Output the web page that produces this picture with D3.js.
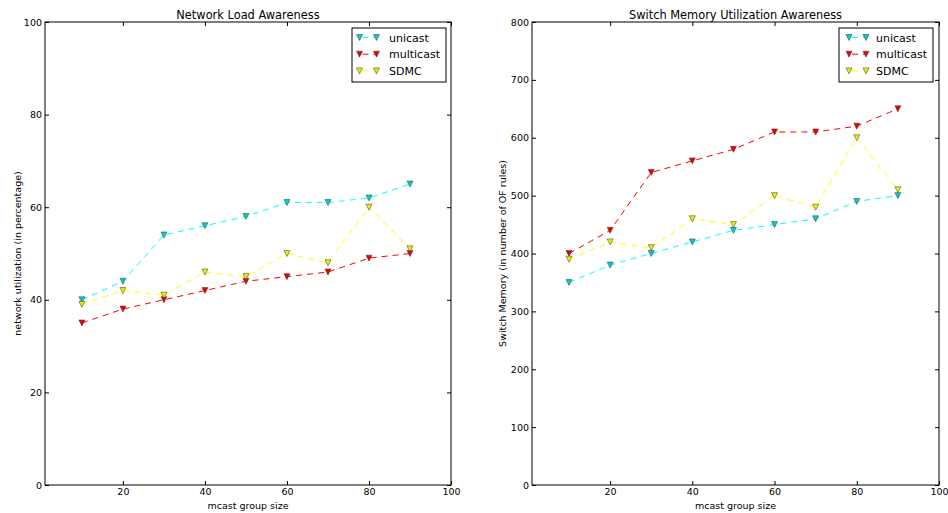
<!DOCTYPE html>
<html>
<head>
<meta charset="utf-8">
<script src="https://cdn.jsdelivr.net/npm/d3@7"></script>
<style>
  html, body { margin: 0; padding: 0; background: #ffffff; }
  text { font-family: "DejaVu Sans", sans-serif; fill: #000; }
</style>
</head>
<body>
<svg id="chart" width="948" height="513"></svg>
<script>
// ---- data ----
const groupSizes = [10, 20, 30, 40, 50, 60, 70, 80, 90];
const seriesNames = ["unicast", "multicast", "SDMC"];

const loadUnicast   = [40, 44, 54, 56, 58, 61, 61, 62, 65];
const loadMulticast = [35, 38, 40, 42, 44, 45, 46, 49, 50];
const loadSDMC      = [39, 42, 41, 46, 45, 50, 48, 60, 51];

const memUnicast    = [350, 380, 400, 420, 440, 450, 460, 490, 500];
const memMulticast  = [400, 440, 540, 560, 580, 610, 610, 620, 650];
const memSDMC       = [390, 420, 410, 460, 450, 500, 480, 600, 510];

const xTicks = [20, 40, 60, 80, 100];
const loadYTicks = [0, 20, 40, 60, 80, 100];
const memYTicks = [0, 100, 200, 300, 400, 500, 600, 700, 800];

const titles = ["Network Load Awareness", "Switch Memory Utilization Awareness"];
const xLabel = "mcast group size";
const yLabels = ["network utilization (in percentage)", "Switch Memory (in number of OF rules)"];

// ---- styles ----
const lineColors = ["#00ffff", "#ff0000", "#ffff00"];
const markerColors = ["#00d0d0", "#ee0000", "#eeee00"];

const svg = d3.select("#chart");
svg.append("rect").attr("width", 948).attr("height", 513).attr("fill", "#fff");

function triDown(cx, cy, r) {
  return `M${cx - r},${cy - r}L${cx + r},${cy - r}L${cx},${cy + r}Z`;
}

function panel(cfg) {
  const { left, right, top, bottom, yDomain, yTicks, series, title, yLabel, legend } = cfg;
  const x = d3.scaleLinear().domain([1, 100]).range([left, right]);
  const y = d3.scaleLinear().domain(yDomain).range([bottom, top]);
  const g = svg.append("g");

  // axes (ticks inward, all four sides)
  const tick = 4;
  const bottomAxis = d3.axisBottom(x).tickValues(xTicks).tickSize(-tick).tickPadding(3.5).tickFormat(d3.format("d"));
  const topAxis = d3.axisTop(x).tickValues(xTicks).tickSize(-tick).tickFormat("");
  const leftAxis = d3.axisLeft(y).tickValues(yTicks).tickSize(-tick).tickPadding(3).tickFormat(d3.format("d"));
  const rightAxis = d3.axisRight(y).tickValues(yTicks).tickSize(-tick).tickFormat("");

  const styleAxis = sel => {
    sel.select(".domain").remove();
    sel.selectAll(".tick line").attr("stroke", "#000").attr("stroke-width", 1);
    sel.selectAll(".tick text").style("font-family", "DejaVu Sans").style("font-size", "9.5px").attr("fill", "#000");
  };
  g.append("g").attr("transform", `translate(0,${bottom})`).call(bottomAxis).call(styleAxis);
  g.append("g").attr("transform", `translate(0,${top})`).call(topAxis).call(styleAxis);
  g.append("g").attr("transform", `translate(${left},0)`).call(leftAxis).call(styleAxis);
  g.append("g").attr("transform", `translate(${right},0)`).call(rightAxis).call(styleAxis);

  // frame
  g.append("rect")
    .attr("x", left).attr("y", top)
    .attr("width", right - left).attr("height", bottom - top)
    .attr("fill", "none").attr("stroke", "#000").attr("stroke-width", 1);

  // series
  const line = d3.line().x((d, i) => x(groupSizes[i])).y(d => y(d));
  series.forEach((vals, s) => {
    g.append("path").datum(vals)
      .attr("d", line)
      .attr("fill", "none")
      .attr("stroke", lineColors[s])
      .attr("stroke-width", 1)
      .attr("stroke-dasharray", "6,5");
  });
  series.forEach((vals, s) => {
    g.selectAll(null).data(vals).enter().append("path")
      .attr("d", (d, i) => triDown(x(groupSizes[i]), y(d), 3))
      .attr("fill", markerColors[s])
      .attr("stroke", "#333")
      .attr("stroke-width", 0.5);
  });

  // title
  g.append("text")
    .attr("x", (left + right) / 2).attr("y", top - 3)
    .attr("text-anchor", "middle")
    .style("font-size", "11.4px")
    .text(title);

  // x label
  g.append("text")
    .attr("x", (left + right) / 2).attr("y", bottom + 23.5)
    .attr("text-anchor", "middle")
    .style("font-size", "9.5px")
    .text(xLabel);

  // y label
  g.append("text")
    .attr("transform", `translate(${cfg.yLabelX},${(top + bottom) / 2}) rotate(-90)`)
    .attr("text-anchor", "middle")
    .style("font-size", "9.5px")
    .text(yLabel);

  // legend
  const lg = g.append("g");
  lg.append("rect")
    .attr("x", legend.x).attr("y", legend.y)
    .attr("width", 94).attr("height", 54)
    .attr("fill", "#fff").attr("stroke", "#000").attr("stroke-width", 1);
  seriesNames.forEach((name, s) => {
    const cy = legend.y + 9.5 + s * 16.7;
    const x1 = legend.x + legend.m1, x2 = legend.x + legend.m1 + 17;
    lg.append("line").attr("x1", x1).attr("x2", x2).attr("y1", cy).attr("y2", cy)
      .attr("stroke", lineColors[s]).attr("stroke-width", 1).attr("stroke-dasharray", "6,5")
      .attr("stroke-dashoffset", -3);
    [x1, x2].forEach(mx => {
      lg.append("path").attr("d", triDown(mx, cy, 3))
        .attr("fill", markerColors[s]).attr("stroke", "#333").attr("stroke-width", 0.5);
    });
    lg.append("text").attr("x", legend.x + 37).attr("y", cy + 4)
      .style("font-size", "11px").text(name);
  });
}

panel({
  left: 45, right: 451, top: 22, bottom: 485,
  yDomain: [0, 100], yTicks: loadYTicks,
  series: [loadUnicast, loadMulticast, loadSDMC],
  title: titles[0], yLabel: yLabels[0], yLabelX: 21,
  legend: { x: 352, y: 28, m1: 7.5 }
});

panel({
  left: 532, right: 939, top: 22, bottom: 485,
  yDomain: [0, 800], yTicks: memYTicks,
  series: [memUnicast, memMulticast, memSDMC],
  title: titles[1], yLabel: yLabels[1], yLabelX: 506,
  legend: { x: 839, y: 28, m1: 10 }
});
</script>
</body>
</html>
